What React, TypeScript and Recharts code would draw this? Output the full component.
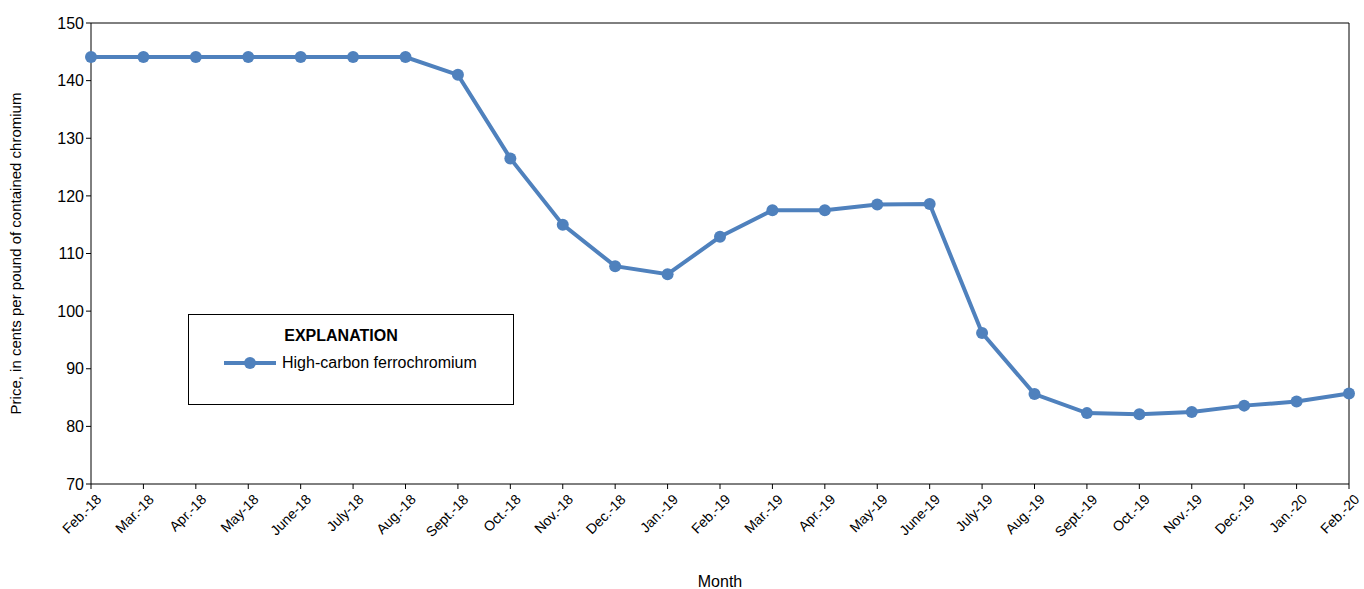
import React from 'react';
import { LineChart, Line, XAxis, YAxis, Label } from 'recharts';

const months = ['Feb.-18','Mar.-18','Apr.-18','May-18','June-18','July-18','Aug.-18','Sept.-18','Oct.-18','Nov.-18','Dec.-18','Jan.-19','Feb.-19','Mar.-19','Apr.-19','May-19','June-19','July-19','Aug.-19','Sept.-19','Oct.-19','Nov.-19','Dec.-19','Jan.-20','Feb.-20'];
const prices = [144.1,144.1,144.1,144.1,144.1,144.1,144.1,141,126.5,115,107.8,106.4,112.9,117.5,117.5,118.5,118.6,96.2,85.6,82.3,82.1,82.5,83.6,84.3,85.7];
const yTicks = [70,80,90,100,110,120,130,140,150];

const data = months.map((m, i) => ({ month: m, price: prices[i] }));
const font = '"Liberation Sans Narrow", "Arial Narrow", "Liberation Sans", sans-serif';
const blue = '#4f81bd';

const LegendBox = () => (
  <div style={{ position: 'absolute', left: 188, top: 314, width: 326, height: 91, border: '1px solid #000', background: '#fff', fontFamily: font, boxSizing: 'border-box' }}>
    <div style={{ textAlign: 'center', fontWeight: 'bold', fontSize: 16, marginTop: 12, marginLeft: -20 }}>EXPLANATION</div>
    <div style={{ display: 'flex', alignItems: 'center', marginLeft: 33, marginTop: 9, fontSize: 16 }}>
      <svg width={56} height={14}><line x1={2} y1={7} x2={54} y2={7} stroke={blue} strokeWidth={4} /><circle cx={28} cy={7} r={6} fill={blue} /></svg>
      <span style={{ marginLeft: 4 }}>High-carbon ferrochromium</span>
    </div>
  </div>
);

const XTick = (props: any) => {
  const { x, y, payload } = props;
  return (
    <text x={x + 4} y={y + 2} transform={`rotate(-45 ${x + 4} ${y + 2})`} textAnchor="end" dominantBaseline="hanging" fontSize={14} fontFamily={font} fill="#000">
      {payload.value}
    </text>
  );
};

export default function App() {
  return (
    <div style={{ position: 'absolute', left: 0, top: 0, width: 1364, height: 589 }}>
      <LineChart width={1364} height={589} data={data} margin={{ top: 22, right: 14, bottom: 0, left: 0 }}>
        <XAxis dataKey="month" interval={0} tick={<XTick />} stroke="#000" tickSize={5} height={105}>
          <Label value="Month" position="insideBottom" offset={2} fontSize={16} fontFamily={font} fill="#000" />
        </XAxis>
        <XAxis xAxisId="top" dataKey="month" orientation="top" tick={false} tickLine={false} axisLine={{ stroke: '#000' }} height={1} />
        <YAxis domain={[70, 150]} ticks={yTicks} width={91} stroke="#000" tickSize={5} interval={0}
          tick={{ fontSize: 16, fontFamily: font, fill: '#000' }}>
          <Label value="Price, in cents per pound of contained chromium" angle={-90} position="insideLeft" offset={16} style={{ textAnchor: 'middle' }} fontSize={15} fontFamily={font} fill="#000" />
        </YAxis>
        <YAxis yAxisId="r" orientation="right" tick={false} tickLine={false} axisLine={{ stroke: '#000' }} width={1} />
        <Line dataKey="price" stroke={blue} strokeWidth={4} dot={{ r: 6, fill: blue, stroke: blue, strokeWidth: 0 }} isAnimationActive={false} />
      </LineChart>
      <LegendBox />
    </div>
  );
}
